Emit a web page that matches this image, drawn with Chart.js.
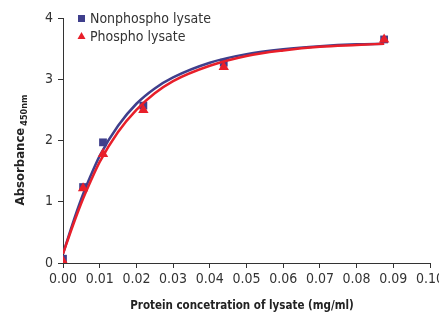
<!DOCTYPE html>
<html>
<head>
<meta charset="utf-8">
<script src="https://cdn.jsdelivr.net/npm/chart.js@4/dist/chart.umd.min.js"></script>
<style>
  html, body { margin: 0; padding: 0; background: #fff; }
  #wrap { width: 439px; height: 312px; }
</style>
</head>
<body>
<div id="wrap"><canvas id="chart"></canvas></div>
<script>
// measured points (mg/ml vs A450)
const conc = [0, 0.00547, 0.0109, 0.0219, 0.0438, 0.0875];
const nonphospho = [0.07, 1.24, 1.97, 2.57, 3.27, 3.65];
const phospho = [0.03, 1.22, 1.78, 2.50, 3.20, 3.65];

// fitted curves
const fitX = [0, 0.0025, 0.005, 0.0075, 0.01, 0.015, 0.02, 0.025, 0.03, 0.04, 0.05, 0.06, 0.07, 0.08, 0.0875];
const fitNonphospho = [0.15, 0.62, 1.05, 1.42, 1.75, 2.24, 2.60, 2.85, 3.03, 3.27, 3.41, 3.49, 3.54, 3.57, 3.58];
const fitPhospho = [0.15, 0.58, 0.98, 1.33, 1.65, 2.14, 2.50, 2.77, 2.97, 3.22, 3.38, 3.47, 3.53, 3.56, 3.58];

const xTicks = [0, 0.01, 0.02, 0.03, 0.04, 0.05, 0.06, 0.07, 0.08, 0.09, 0.10];
const yTicks = [0, 1, 2, 3, 4];

const BLUE = '#3f3f8c';
const RED = '#e81f2a';
const AXIS = '#333333';
const FONT = "'DejaVu Sans Condensed', 'Liberation Sans Narrow', sans-serif";

function pts(xs, ys) {
    return xs.map((x, i) => ({ x: x, y: ys[i] }));
}

// legend inside the plot and axis titles (y title has a subscript)
const extras = {
    id: 'extras',
    afterDraw(chart) {
        const ctx = chart.ctx;
        const area = chart.chartArea;
        ctx.save();

        // legend
        ctx.font = '14px ' + FONT;
        ctx.textBaseline = 'middle';
        ctx.fillStyle = BLUE;
        ctx.fillRect(area.left + 15, 15, 7, 7);
        ctx.fillStyle = '#333';
        ctx.fillText('Nonphospho lysate', area.left + 27, 19);
        ctx.fillStyle = RED;
        ctx.beginPath();
        ctx.moveTo(area.left + 18.5, 32);
        ctx.lineTo(area.left + 22.5, 39);
        ctx.lineTo(area.left + 14.5, 39);
        ctx.closePath();
        ctx.fill();
        ctx.fillStyle = '#333';
        ctx.fillText('Phospho lysate', area.left + 27, 37);

        // x title
        ctx.font = 'bold 11.5px ' + FONT;
        ctx.textAlign = 'center';
        ctx.textBaseline = 'alphabetic';
        ctx.fillStyle = '#222';
        ctx.fillText('Protein concetration of lysate (mg/ml)', 242, 309);

        // y title, rotated
        ctx.translate(24, 150);
        ctx.rotate(-Math.PI / 2);
        ctx.textAlign = 'left';
        const main = 'Absorbance';
        ctx.font = 'bold 13px ' + FONT;
        const w1 = ctx.measureText(main).width;
        ctx.font = 'bold 9px ' + FONT;
        const w2 = ctx.measureText('450nm').width;
        const start = -(w1 + w2 + 2) / 2;
        ctx.font = 'bold 13px ' + FONT;
        ctx.fillText(main, start, 0);
        ctx.font = 'bold 9px ' + FONT;
        ctx.fillText('450nm', start + w1 + 2, 3);
        ctx.restore();
    }
};

new Chart(document.getElementById('chart'), {
    type: 'scatter',
    data: {
        datasets: [
            {
                label: 'Nonphospho fit',
                data: pts(fitX, fitNonphospho),
                showLine: true,
                borderColor: BLUE,
                borderWidth: 2.5,
                pointRadius: 0,
                cubicInterpolationMode: 'monotone',
                order: 4
            },
            {
                label: 'Nonphospho lysate',
                data: pts(conc, nonphospho),
                pointStyle: 'rect',
                pointRadius: 5.5,
                backgroundColor: BLUE,
                borderColor: BLUE,
                borderWidth: 0,
                order: 3
            },
            {
                label: 'Phospho fit',
                data: pts(fitX, fitPhospho),
                showLine: true,
                borderColor: RED,
                borderWidth: 2.5,
                pointRadius: 0,
                cubicInterpolationMode: 'monotone',
                order: 2
            },
            {
                label: 'Phospho lysate',
                data: pts(conc, phospho),
                pointStyle: 'triangle',
                pointRadius: 6,
                backgroundColor: RED,
                borderColor: RED,
                borderWidth: 0,
                order: 1
            }
        ]
    },
    options: {
        responsive: true,
        maintainAspectRatio: false,
        animation: false,
        layout: { padding: { top: 18, right: 9, left: 0, bottom: 0 } },
        plugins: {
            legend: { display: false },
            tooltip: { enabled: false }
        },
        scales: {
            x: {
                type: 'linear',
                min: 0,
                max: 0.1,
                afterBuildTicks: (s) => { s.ticks = xTicks.map(v => ({ value: v })); },
                afterFit: (s) => { s.height = 49; s.paddingRight = 0; s.paddingLeft = 0; },
                ticks: {
                    color: '#333',
                    font: { family: FONT, size: 14 },
                    padding: 3,
                    maxRotation: 0,
                    autoSkip: false,
                    callback: (v) => v.toFixed(2)
                },
                grid: { drawOnChartArea: false, drawTicks: true, tickLength: 5, color: AXIS },
                border: { color: AXIS, width: 1 }
            },
            y: {
                min: 0,
                max: 4,
                afterBuildTicks: (s) => { s.ticks = yTicks.map(v => ({ value: v })); },
                afterFit: (s) => { s.width = 63; s.paddingTop = 0; s.paddingBottom = 0; },
                ticks: {
                    color: '#333',
                    font: { family: FONT, size: 14 },
                    padding: 5
                },
                grid: { drawOnChartArea: false, drawTicks: true, tickLength: 5, color: AXIS },
                border: { color: AXIS, width: 1 }
            }
        }
    },
    plugins: [extras]
});
</script>
</body>
</html>
